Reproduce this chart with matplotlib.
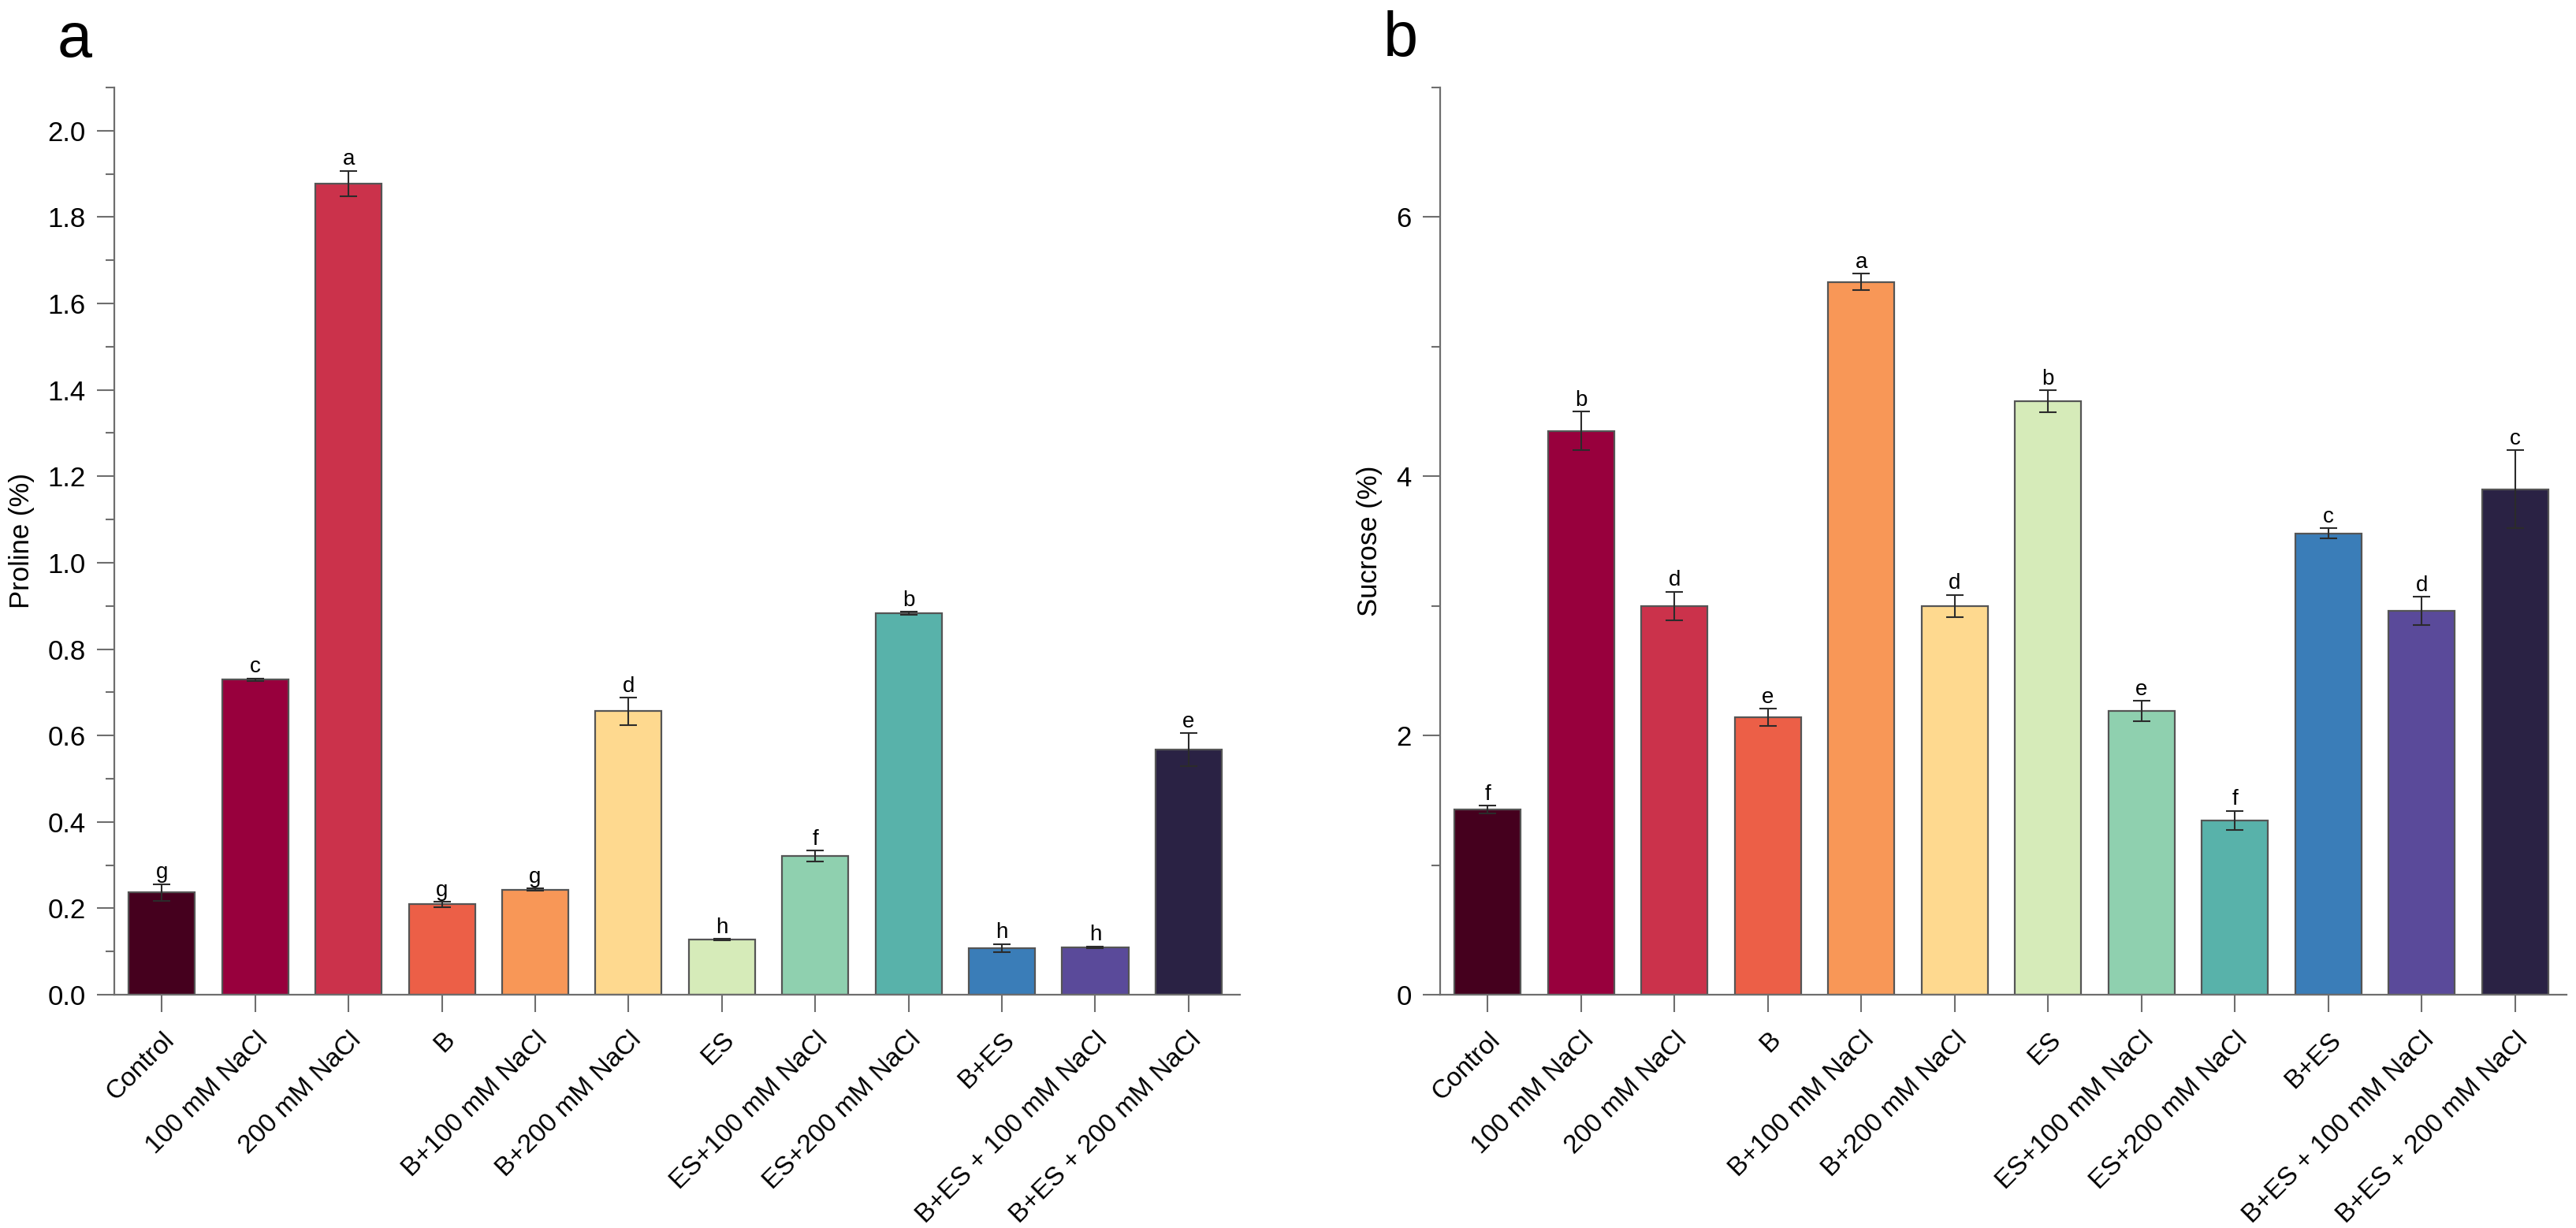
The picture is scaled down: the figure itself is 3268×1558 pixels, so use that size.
import matplotlib.pyplot as plt
import numpy as np

plt.rcParams['font.family'] = ['Liberation Sans', 'DejaVu Sans']

groups = ['Control', '100 mM NaCl', '200 mM NaCl', 'B', 'B+100 mM NaCl', 'B+200 mM NaCl',
          'ES', 'ES+100 mM NaCl', 'ES+200 mM NaCl', 'B+ES', 'B+ES + 100 mM NaCl', 'B+ES + 200 mM NaCl']
colors = ['#45001E', '#98003D', '#CB324B', '#EC5F47', '#F89757', '#FED98F',
          '#D6EBB9', '#8FD0AF', '#58B2AA', '#3A7DB8', '#5A4A9A', '#2A2244']

# panel a: proline
proline = [0.237, 0.729, 1.878, 0.209, 0.243, 0.656, 0.127, 0.321, 0.883, 0.108, 0.110, 0.567]
proline_err = [0.019, 0.003, 0.029, 0.006, 0.003, 0.032, 0.002, 0.013, 0.003, 0.009, 0.002, 0.038]
proline_letters = ['g', 'c', 'a', 'g', 'g', 'd', 'h', 'f', 'b', 'h', 'h', 'e']

# panel b: sucrose
sucrose = [1.43, 4.35, 3.00, 2.14, 5.50, 3.00, 4.58, 2.19, 1.345, 3.56, 2.96, 3.90]
sucrose_err = [0.03, 0.15, 0.11, 0.065, 0.065, 0.085, 0.084, 0.078, 0.073, 0.04, 0.11, 0.30]
sucrose_letters = ['f', 'b', 'd', 'e', 'a', 'd', 'b', 'e', 'f', 'c', 'd', 'c']

W, H = 3268, 1558
fig = plt.figure(figsize=(W / 100, H / 100), dpi=100)

axis_col = '#6e6e6e'


def draw(ax, vals, errs, letters, ylim, major, minor, fmt, ylabel):
    x = np.arange(len(vals))
    ax.bar(x, vals, width=0.71, color=colors, edgecolor='#555555', linewidth=1.6, zorder=2)
    ax.errorbar(x, vals, yerr=errs, fmt='none', ecolor='#2b2b2b', elinewidth=1.5,
                capsize=8, capthick=1.5, zorder=3)
    for xi, v, e, l in zip(x, vals, errs, letters):
        ax.annotate(l, (xi, v + e), xytext=(0, 1), textcoords='offset points',
                    ha='center', va='bottom', fontsize=20)
    ax.set_xlim(-0.51, 11.55)
    ax.set_ylim(*ylim)
    ax.set_yticks(major)
    ax.set_yticklabels([fmt.format(t) for t in major])
    ax.set_yticks(minor, minor=True)
    ax.set_xticks(x)
    ax.set_xticklabels(groups, rotation=45, ha='right', va='top', rotation_mode='anchor')
    for s in ['top', 'right']:
        ax.spines[s].set_visible(False)
    for s in ['left', 'bottom']:
        ax.spines[s].set_color(axis_col)
        ax.spines[s].set_linewidth(1.6)
    ax.tick_params(axis='y', which='major', length=16, width=1.5, color=axis_col,
                   labelsize=25, pad=10)
    ax.tick_params(axis='y', which='minor', length=8, width=1.5, color=axis_col)
    ax.tick_params(axis='x', which='major', length=16, width=1.5, color=axis_col,
                   labelsize=24, pad=14)
    ax.set_ylabel(ylabel, fontsize=25)


ax_a = fig.add_axes([145 / W, 1 - 1262 / H, 1428 / W, 1151 / H])
draw(ax_a, proline, proline_err, proline_letters, (0, 2.1),
     np.arange(0, 2.01, 0.2), np.arange(0.1, 2.11, 0.2), '{:.1f}', 'Proline (%)')
ax_a.yaxis.set_label_coords(-(145 - 44) / 1428, 0.5)

ax_b = fig.add_axes([1827 / W, 1 - 1262 / H, 1429 / W, 1151 / H])
draw(ax_b, sucrose, sucrose_err, sucrose_letters, (0, 7),
     [0, 2, 4, 6], [1, 3, 5, 7], '{:.0f}', 'Sucrose (%)')
ax_b.yaxis.set_label_coords(-(1827 - 1754) / 1429, 0.5)

fig.text(73 / W, 1 - 72 / H, 'a', fontsize=57, ha='left', va='baseline')
fig.text(1755 / W, 1 - 71 / H, 'b', fontsize=57, ha='left', va='baseline')

fig.savefig('out.png', dpi=100)
